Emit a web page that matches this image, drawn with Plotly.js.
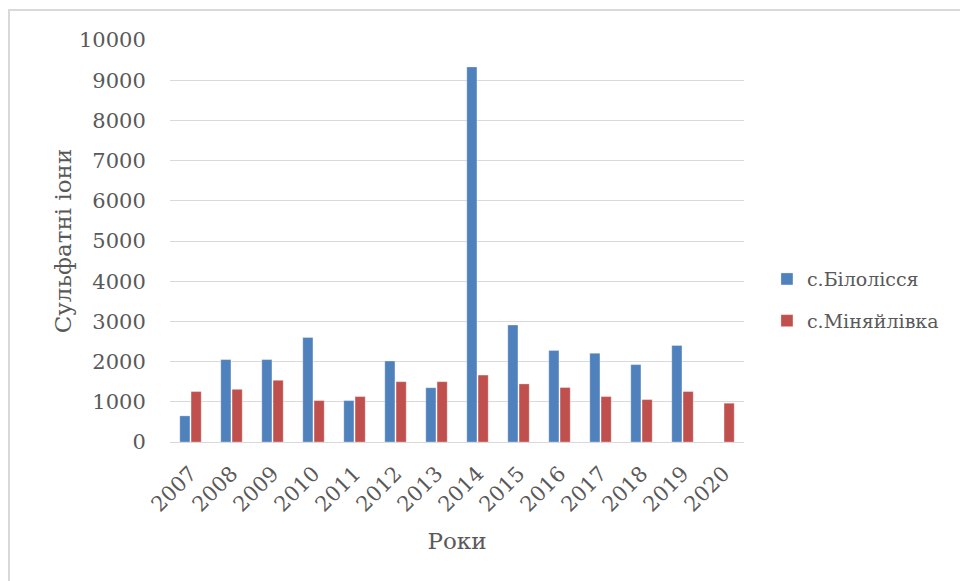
<!DOCTYPE html>
<html>
<head>
<meta charset="utf-8">
<script src="https://cdn.plot.ly/plotly-3.0.1.min.js"></script>
<style>
  html, body { margin: 0; padding: 0; background: #ffffff; }
  #chart { position: absolute; left: 0; top: 0; width: 960px; height: 581px; }
  #frame { position: absolute; left: 8px; top: 9px; width: 1000px; height: 700px;
           border-left: 2px solid #d9d9d9; border-top: 2px solid #d9d9d9; pointer-events: none; }
</style>
</head>
<body>
<div id="chart"></div>
<div id="frame"></div>
<script>
// Sulfate ion concentrations by year for two villages
const years = ['2007', '2008', '2009', '2010', '2011', '2012', '2013',
               '2014', '2015', '2016', '2017', '2018', '2019', '2020'];
const bilolissia = [650, 2050, 2050, 2600, 1030, 2015, 1350,
                    9330, 2910, 2275, 2205, 1925, 2400, null];
const miniailivka = [1255, 1310, 1535, 1030, 1130, 1500, 1500,
                     1665, 1445, 1355, 1130, 1055, 1255, 965];
const seriesNames = ['с.Білолісся', 'с.Міняйлівка'];
const seriesColors = ['#4F81BD', '#C0504D'];

const fontFamily = '"DejaVu Serif", "Liberation Serif", serif';
const textColor = '#595959';
const gridColor = '#d9d9d9';

const traces = [bilolissia, miniailivka].map((vals, i) => ({
  type: 'bar',
  name: seriesNames[i],
  x: years,
  y: vals,
  legendgroup: 'g' + i,
  marker: { color: seriesColors[i], line: { color: 'rgba(255,255,255,0.5)', width: 0.6 } },
  hoverinfo: 'x+y+name'
}));

const layout = {
  width: 960,
  height: 581,
  margin: { l: 170, r: 216, t: 40, b: 139 },
  paper_bgcolor: '#ffffff',
  plot_bgcolor: '#ffffff',
  font: { family: fontFamily, color: textColor, size: 21 },
  barmode: 'group',
  bargap: 0.45,
  bargroupgap: 0.1,
  showlegend: true,
  legend: {
    x: 1.04, y: 0.353, xanchor: 'left', yanchor: 'middle',
    traceorder: 'grouped', tracegroupgap: 14,
    font: { family: fontFamily, size: 19, color: textColor },
    bgcolor: 'rgba(0,0,0,0)'
  },
  xaxis: {
    type: 'category',
    tickangle: -45,
    tickfont: { family: fontFamily, size: 21, color: textColor },
    showgrid: false,
    showline: true, linecolor: gridColor, linewidth: 1,
    ticks: 'outside', ticklen: 10, tickcolor: 'rgba(0,0,0,0)',
    automargin: false,
    title: { text: 'Роки', font: { family: fontFamily, size: 23, color: textColor }, standoff: 17 }
  },
  yaxis: {
    range: [0, 10000],
    dtick: 1000,
    tickformat: 'd',
    tickfont: { family: fontFamily, size: 21, color: textColor },
    showgrid: true, gridcolor: gridColor, gridwidth: 1,
    zeroline: true, zerolinecolor: gridColor, zerolinewidth: 1,
    showline: false,
    ticks: 'outside', ticklen: 19, tickcolor: 'rgba(0,0,0,0)',
    automargin: false,
    title: { text: 'Сульфатні іони', font: { family: fontFamily, size: 23, color: textColor }, standoff: 0 }
  }
};

Plotly.newPlot('chart', traces, layout, { displayModeBar: false, staticPlot: true });
</script>
</body>
</html>
